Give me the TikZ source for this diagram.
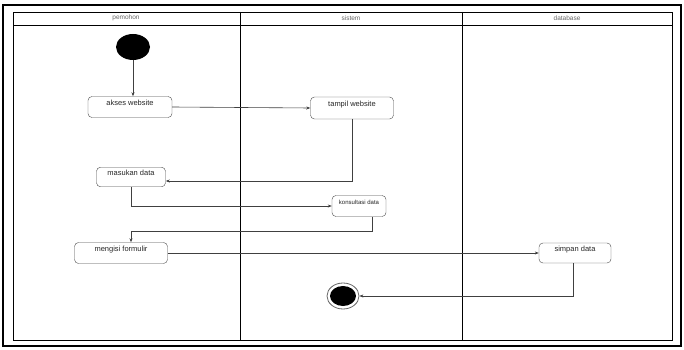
\documentclass[tikz,border=0pt]{standalone}
\usepackage{fontspec}
\setmainfont{Liberation Sans}
\usetikzlibrary{arrows.meta,shapes.geometric}
\begin{document}
\begin{tikzpicture}[x=1pt,y=-1pt,
  act/.style={draw=black!70,rounded corners=4pt,fill=white,font=\fontsize{7.5}{8}\selectfont,text=black!85,anchor=center,inner xsep=2pt,inner ysep=2.5pt,text height=5.5pt,text depth=9pt},
  flow/.style={draw=black!75,line width=0.6pt,-{Stealth[length=4pt,width=3pt]}},
  lane/.style={draw=black,line width=1pt},
  head/.style={font=\fontsize{6.5}{7}\selectfont,text=black!60}]
\useasboundingbox (0,0) rectangle (684,350);
\fill[white] (0,0) rectangle (684,350);
\draw[line width=1.2pt] (3,5) rectangle (681,346);
% swimlanes
\draw[line width=0.8pt] (13,12) rectangle (672,340);
\draw[line width=0.6pt] (13,25) -- (672,25);
\draw[lane] (240,12) -- (240,340);
\draw[lane] (462,12) -- (462,340);
\node[head] (h1) at (126,18) {pemohon};
\node[head] (h2) at (351,18) {sistem};
\node[head] (h3) at (567,18) {database};
% nodes
\node[ellipse,fill=black,minimum width=34pt,minimum height=26pt,inner sep=0pt] (start) at (133,47) {};
\node[act,minimum width=84pt,minimum height=21pt] (a1) at (130,107) {akses website};
\node[act,minimum width=83pt,minimum height=22pt] (a2) at (352,108) {tampil website};
\node[act,minimum width=69pt,minimum height=19pt] (a3) at (131,177) {masukan data};
\node[act,minimum width=54pt,minimum height=21pt,font=\fontsize{6}{7}\selectfont] (a4) at (359,206) {konsultasi data};
\node[act,minimum width=93pt,minimum height=21pt] (a5) at (121,253) {mengisi formulir};
\node[act,minimum width=72pt,minimum height=20pt] (a6) at (575,253) {simpan data};
\node[ellipse,draw=black!60,line width=0.8pt,minimum width=32pt,minimum height=26pt,inner sep=0pt] (endo) at (343,296) {};
\node[ellipse,fill=black,minimum width=26pt,minimum height=20pt,inner sep=0pt] (endi) at (343,296) {};
% edges
\draw[flow] (start.south) -- (a1.north -| start.south);
\draw[flow] (a1.east) -- (a2.west);
\draw[flow] (a2.south) |- ([yshift=-4pt]a3.east);
\draw[flow] (a3.south) |- (a4.west);
\draw[flow] ([xshift=13pt]a4.south) -- ++(0,15) -| (a5.north -| a3.south);
\draw[flow] (a5.east) -- (a6.west);
\draw[flow] ([xshift=-2pt]a6.south) |- (endo.east);
\end{tikzpicture}
\end{document}
